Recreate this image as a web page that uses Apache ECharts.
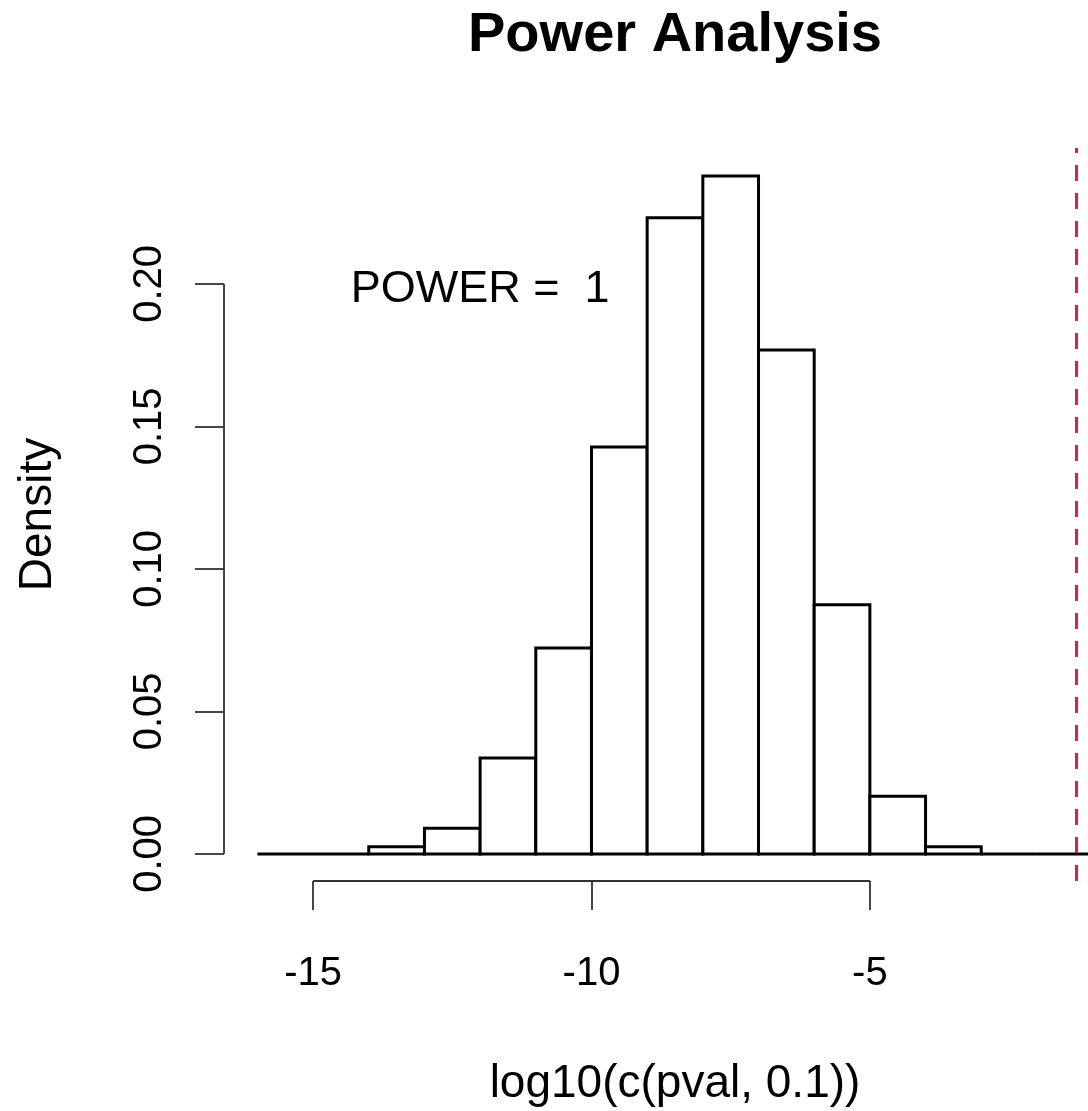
<!DOCTYPE html>
<html>
<head>
<meta charset="utf-8">
<script src="https://cdn.jsdelivr.net/npm/echarts@6/dist/echarts.min.js"></script>
<style>
  html, body { margin: 0; padding: 0; background: #fff; }
  #chart { width: 1088px; height: 1111px; }
</style>
</head>
<body>
<div id="chart"></div>
<script>
// histogram of log10 p-values
const binEdges = [-16, -15, -14, -13, -12, -11, -10, -9, -8, -7, -6, -5, -4, -3, -2, -1];
const densities = [0, 0, 0.0025, 0.009, 0.0337, 0.0723, 0.1428, 0.2232, 0.2379, 0.1768, 0.0874, 0.0202, 0.0025, 0, 0];

const xTicks = [-15, -10, -5];
const yTicks = [0, 0.05, 0.1, 0.15, 0.2];

const cutoff = Math.log10(0.05);   // red dashed line
const powerLabel = 'POWER =  1';
const powerPos = [-12, 0.198];

// R style 4% axis extension
const xMin = -16.6, xMax = -0.4;
const yMin = -0.0095, yMax = 0.2477;

const FONT = 'Liberation Sans, Arial, Helvetica, sans-serif';

const chart = echarts.init(document.getElementById('chart'));

const histData = densities.map((d, i) => [binEdges[i], binEdges[i + 1], d]);

const option = {
    backgroundColor: '#fff',
    animation: false,
    grid: {
        left: 224,
        right: -38,
        top: 148,
        bottom: 230,
        containLabel: false,
        outerBoundsMode: 'none'
    },
    graphic: [
        {
            type: 'text',
            x: 675,
            y: 36,
            style: {
                text: 'Power Analysis',
                font: 'bold 56px ' + FONT,
                fill: '#000',
                textAlign: 'center',
                textVerticalAlign: 'middle'
            }
        }
    ],
    xAxis: {
        type: 'value',
        min: xMin,
        max: xMax,
        name: 'log10(c(pval, 0.1))',
        nameLocation: 'middle',
        nameGap: 180,
        nameTextStyle: { fontFamily: FONT, fontSize: 46, color: '#000' },
        axisLine: { show: false, onZero: false },
        splitLine: { show: false },
        axisTick: {
            show: true,
            customValues: xTicks,
            length: 29,
            lineStyle: { color: '#333', width: 1.8 }
        },
        axisLabel: {
            customValues: xTicks,
            margin: 73,
            fontFamily: FONT,
            fontSize: 40,
            color: '#000'
        }
    },
    yAxis: {
        type: 'value',
        min: yMin,
        max: yMax,
        name: 'Density',
        nameLocation: 'middle',
        nameRotate: 90,
        nameGap: 163,
        nameTextStyle: { fontFamily: FONT, fontSize: 46, color: '#000' },
        axisLine: { show: false, onZero: false },
        splitLine: { show: false },
        axisTick: {
            show: true,
            customValues: yTicks,
            length: 29,
            lineStyle: { color: '#333', width: 1.8 }
        },
        axisLabel: {
            customValues: yTicks,
            rotate: 90,
            margin: 54,
            fontFamily: FONT,
            fontSize: 40,
            color: '#000',
            formatter: v => v.toFixed(2)
        }
    },
    series: [
        {
            type: 'custom',
            data: histData,
            renderItem: (params, api) => {
                const p0 = api.coord([api.value(0), api.value(2)]);
                const p1 = api.coord([api.value(1), 0]);
                return {
                    type: 'rect',
                    shape: { x: p0[0], y: p0[1], width: p1[0] - p0[0], height: p1[1] - p0[1] },
                    style: { fill: '#fff', stroke: '#000', lineWidth: 3 }
                };
            },
            markLine: {
                silent: true,
                symbol: 'none',
                label: { show: false },
                lineStyle: { color: '#e0203f', width: 3, type: [16, 12] },
                data: [{ xAxis: cutoff }]
            }
        },
        // x axis line, only over the tick range
        {
            type: 'line',
            data: [[xTicks[0], yMin], [xTicks[xTicks.length - 1], yMin]],
            symbol: 'none',
            clip: false,
            silent: true,
            lineStyle: { color: '#333', width: 1.8 }
        },
        // y axis line
        {
            type: 'line',
            data: [[xMin, yTicks[0]], [xMin, yTicks[yTicks.length - 1]]],
            symbol: 'none',
            clip: false,
            silent: true,
            lineStyle: { color: '#333', width: 1.8 }
        },
        // POWER annotation
        {
            type: 'custom',
            data: [powerPos],
            silent: true,
            renderItem: (params, api) => {
                const p = api.coord([api.value(0), api.value(1)]);
                return {
                    type: 'text',
                    x: p[0],
                    y: p[1],
                    style: {
                        text: powerLabel,
                        font: '45px ' + FONT,
                        fill: '#000',
                        textAlign: 'center',
                        textVerticalAlign: 'middle'
                    }
                };
            }
        }
    ]
};

chart.setOption(option);
</script>
</body>
</html>
